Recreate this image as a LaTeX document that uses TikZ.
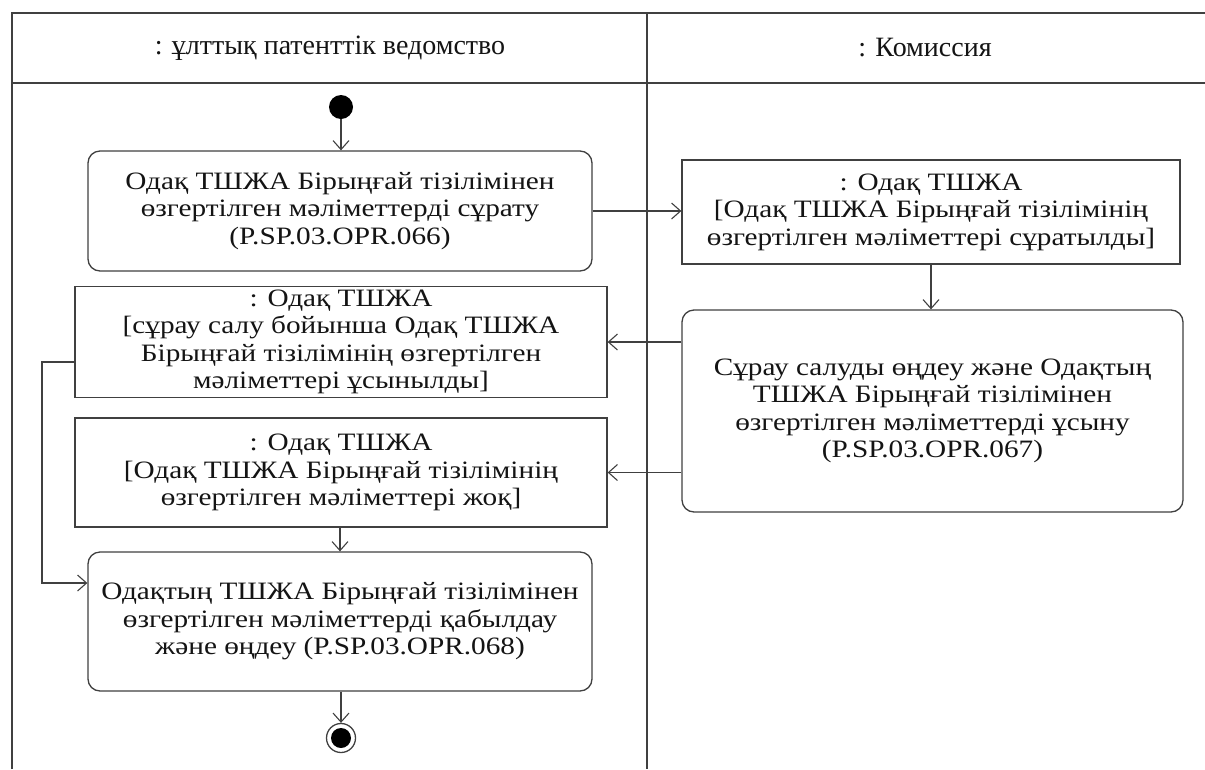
\documentclass[tikz,border=0pt]{standalone}
\usepackage{fontspec}
\setmainfont{Liberation Serif}[FakeStretch=1.17]
\newfontfamily\headfont{Liberation Serif}
\usetikzlibrary{arrows.meta, calc}
\definecolor{umlline}{RGB}{64,64,64}
\definecolor{umltext}{RGB}{20,20,20}

\begin{document}
\begin{tikzpicture}[
      x=1pt, y=-1pt,
      lane/.style={draw=umlline, line width=1.4pt},
      action/.style={rectangle, rounded corners=12pt, draw=umlline, line width=1.3pt,
        fill=white, text=umltext, align=center, font=\fontsize{25}{27.5}\selectfont},
      objbox/.style={rectangle, draw=umlline, line width=1.3pt,
        fill=white, text=umltext, align=center, font=\fontsize{25}{27.5}\selectfont},
      lanetitle/.style={text=umltext, font=\headfont\fontsize{28}{31}\selectfont},
      flow/.style={-{Straight Barb[length=9pt, width=16pt, line width=1.1pt]}, draw=umlline, line width=1.3pt}
    ]
      \useasboundingbox (0,0) rectangle (1205,769);

      % Lanes
      \draw[lane] (12,769) -- (12,13) -- (1205,13);
      \draw[lane] (12,83) -- (1205,83);
      \draw[lane] (647,13) -- (647,769);
      \node[lanetitle] (office) at (330,48) {: ұлттық патенттік ведомство};
      \node[lanetitle] (comm) at (925,48) {: Комиссия};

      % Start and end
      \node[circle, fill=black, minimum size=24pt, inner sep=0pt] (start) at (341,107) {};
      \node[circle, draw=umlline, line width=1.3pt, minimum size=29pt, inner sep=0pt] (finish) at (341,738) {};
      \node[circle, fill=black, minimum size=20pt, inner sep=0pt] (finishdot) at (finish) {};

      % Actions and objects
      \node[action, minimum width=504pt, minimum height=120pt] (request) at (340,211)
        {Одақ ТШЖА Бірыңғай тізілімінен\\өзгертілген мәліметтерді сұрату\\(P.SP.03.OPR.066)};
      \node[objbox, minimum width=498pt, minimum height=104pt] (asked) at (931,212)
        {: Одақ ТШЖА\\{[}Одақ ТШЖА Бірыңғай тізілімінің\\өзгертілген мәліметтері сұратылды]};
      \node[action, minimum width=501pt, minimum height=202pt] (process) at (932.5,411)
        {Сұрау салуды өңдеу және Одақтың\\ТШЖА Бірыңғай тізілімінен\\өзгертілген мәліметтерді ұсыну\\(P.SP.03.OPR.067)};
      \node[objbox, minimum width=532pt, minimum height=110pt] (given) at (341,342)
        {: Одақ ТШЖА\\{[}сұрау салу бойынша Одақ ТШЖА\\Бірыңғай тізілімінің өзгертілген\\мәліметтері ұсынылды]};
      \node[objbox, minimum width=532pt, minimum height=109pt] (none) at (341,472.5)
        {: Одақ ТШЖА\\{[}Одақ ТШЖА Бірыңғай тізілімінің\\өзгертілген мәліметтері жоқ]};
      \node[action, minimum width=504pt, minimum height=139pt] (accept) at (340,621.5)
        {Одақтың ТШЖА Бірыңғай тізілімінен\\өзгертілген мәліметтерді қабылдау\\және өңдеу (P.SP.03.OPR.068)};

      \coordinate (detour) at (42,0);

      % Connections
      \draw[flow] (start) -- (start |- request.north);
      \draw[flow] (request.east) -- (request.east -| asked.west);
      \draw[flow] (asked.south) -- (asked.south |- process.north);
      \draw[flow] (process.west |- given.east) -- (given.east);
      \draw[flow] (process.west |- none.east) -- (none.east);
      \draw[flow] (none.south -| accept.north) -- (accept.north);
      \draw[flow] ([yshift=-20pt]given.west) -| (detour |- {$(accept.west)+(0,-38.5)$})
        -- ($(accept.west)+(0,-38.5)$);
      \draw[flow] (accept.south -| finish) -- (finish.north);
    \end{tikzpicture}
\end{document}
